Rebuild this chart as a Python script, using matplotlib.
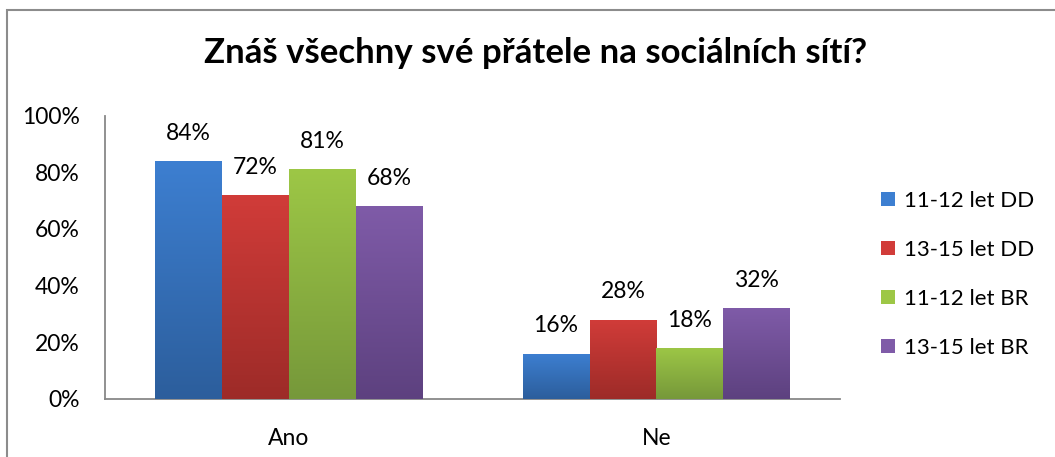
import matplotlib
matplotlib.use("Agg")
import matplotlib.pyplot as plt
import numpy as np
from matplotlib.colors import LinearSegmentedColormap
from matplotlib.patches import Rectangle

plt.rcParams['font.family'] = ['Lato', 'DejaVu Sans']

# data
categories = ['Ano', 'Ne']
series = ['11-12 let DD', '13-15 let DD', '11-12 let BR', '13-15 let BR']
values = [
    [84, 16],
    [72, 28],
    [81, 18],
    [68, 32],
]
labels = [['84%', '16%'], ['72%', '28%'], ['81%', '18%'], ['68%', '32%']]
title = 'Znáš všechny své přátele na sociálních sítí?'
yticks = [0, 20, 40, 60, 80, 100]

# gradient colors (top, bottom) like the old Excel style
tops = ['#3d7fd1', '#d13c39', '#9dc746', '#7f5ba8']
bottoms = ['#2c5e9c', '#9d2b28', '#76983a', '#5d417f']

fig = plt.figure(figsize=(10.55, 4.57), dpi=100)
ax = fig.add_axes([0.0995, 0.127, 0.697, 0.62])

x = np.arange(len(categories))
w = 0.182
for i, name in enumerate(series):
    pos = x + (i - 1.5) * w
    bars = ax.bar(pos, values[i], w, color=tops[i], label=name, zorder=2)
    cmap = LinearSegmentedColormap.from_list('g%d' % i, [bottoms[i], tops[i]])
    grad = np.linspace(0, 1, 256).reshape(-1, 1)
    for b, lab in zip(bars, labels[i]):
        bx, by = b.get_x(), b.get_y()
        bw, bh = b.get_width(), b.get_height()
        im = ax.imshow(grad, cmap=cmap, origin='lower', aspect='auto',
                       extent=[bx, bx + bw, by, by + bh], zorder=3)
        im.set_clip_path(b)
        ax.text(bx + bw / 2, bh + 9.8, lab, ha='center', va='center',
                fontsize=16.5, color='#000000')

ax.set_xlim(-0.5, 1.5)
ax.set_ylim(0, 100)
ax.set_yticks(yticks)
ax.set_yticklabels(['%d%%' % v for v in yticks], fontsize=16.5)
ax.set_xticks(x)
ax.set_xticklabels(categories, fontsize=16.5)
ax.tick_params(axis='y', length=0, pad=18)
ax.tick_params(axis='x', length=0, pad=21)
for s in ['top', 'right']:
    ax.spines[s].set_visible(False)
for s in ['left', 'bottom']:
    ax.spines[s].set_color('#888888')
    ax.spines[s].set_linewidth(1.3)

handles = [Rectangle((0, 0), 1, 1, facecolor=tops[i], edgecolor='none') for i in range(len(series))]
fig.legend(handles, series, loc='center left', bbox_to_anchor=(0.816, 0.40),
           frameon=False, fontsize=16, handlelength=0.62, handleheight=0.62,
           handletextpad=0.4, labelspacing=1.3)

fig.text(0.508, 0.885, title, ha='center', va='center', fontsize=25, fontweight='bold')

# chart border (cut off at right/bottom in the reference)
fig.patches.append(Rectangle((0.0065, -0.1), 1.2, 1.078, transform=fig.transFigure,
                             fill=False, edgecolor='#8c8c8c', linewidth=1.5))

fig.savefig('out.png', dpi=100)
